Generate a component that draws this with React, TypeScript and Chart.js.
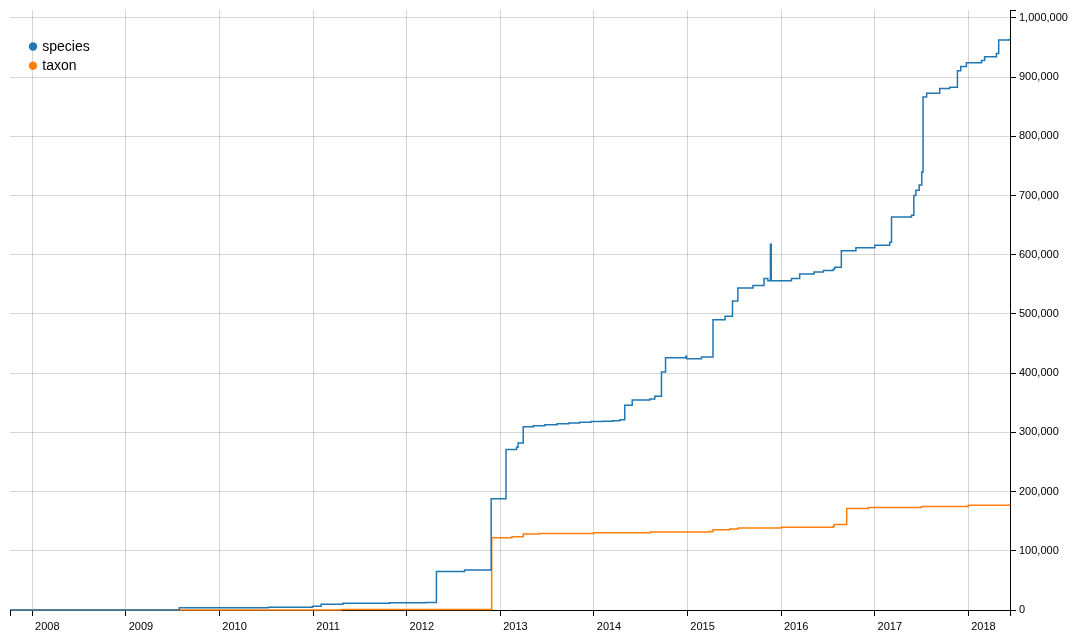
import React, { useEffect, useRef } from 'react';
import { Chart, registerables } from 'chart.js';

Chart.register(...registerables);

// ---- data (dates of change, cumulative counts) ----
const speciesDates = [
  '2007-10-06', '2009-07-28', '2010-07-10', '2010-12-29', '2011-02-01', '2011-04-27',
  '2011-10-27', '2012-03-14', '2012-04-26', '2012-08-14', '2012-11-26', '2013-01-23',
  '2013-03-05', '2013-03-11', '2013-03-31', '2013-05-10', '2013-06-23', '2013-08-10',
  '2013-09-25', '2013-11-06', '2013-12-20', '2014-02-05', '2014-03-15', '2014-04-12',
  '2014-05-01', '2014-05-30', '2014-08-07', '2014-08-26', '2014-09-21', '2014-10-07',
  '2014-12-25', '2014-12-28', '2015-02-24', '2015-04-10', '2015-05-27', '2015-06-25',
  '2015-07-16', '2015-09-13', '2015-10-26', '2015-11-10', '2015-11-20', '2015-11-23',
  '2016-02-10', '2016-03-13', '2016-05-08', '2016-06-14', '2016-07-22', '2016-07-28',
  '2016-08-23', '2016-10-19', '2017-01-01', '2017-02-28', '2017-03-07', '2017-05-24',
  '2017-06-02', '2017-06-10', '2017-06-23', '2017-07-03', '2017-07-08', '2017-07-22',
  '2017-09-11', '2017-10-20', '2017-11-19', '2017-12-02', '2017-12-24', '2018-02-21',
  '2018-03-05', '2018-04-20', '2018-04-29', '2018-06-10',
];
const speciesCounts = [
  0, 4000, 4600, 6400, 9900, 11600,
  12300, 12800, 65200, 67500, 188000, 271000,
  275000, 282000, 309600, 311300, 313000, 314600,
  316000, 317000, 318200, 319000, 319800, 321500,
  346000, 354700, 356400, 361000, 402000, 426000,
  428500, 424500, 427500, 490400, 496000, 522000,
  544000, 548000, 560000, 556000, 618000, 556000,
  560000, 567600, 571000, 573500, 575500, 578900,
  607000, 612000, 616000, 621000, 664000, 667000,
  700000, 709000, 718000, 740000, 866700, 872800,
  881000, 883000, 911000, 918000, 924500, 928000,
  934600, 940000, 962800, 965000,
];

const taxonDates = [
  '2007-10-06', '2011-04-20', '2012-11-28', '2013-02-15', '2013-03-31', '2013-06-01',
  '2014-01-01', '2014-08-08', '2015-03-28', '2015-04-10', '2015-06-14', '2015-07-17',
  '2016-01-01', '2016-07-22', '2016-07-26', '2016-09-13', '2016-12-07', '2017-07-02',
  '2018-01-01', '2018-06-10',
];
const taxonCounts = [
  0, 800, 122000, 123600, 128200, 129400,
  130500, 131800, 132800, 135600, 136800, 138500,
  139800, 141400, 144300, 171600, 173300, 175000,
  176800, 178500,
];

const seriesLabels = ['species', 'taxon'];
const seriesColors = ['#1f77b4', '#ff7f0e'];

const yearTicks = [2008, 2009, 2010, 2011, 2012, 2013, 2014, 2015, 2016, 2017, 2018];
const countTicks = [0, 100000, 200000, 300000, 400000, 500000, 600000, 700000, 800000, 900000, 1000000];

const X_START = '2007-10-06';
const X_END = '2018-06-12';
const Y_MAX = 1013500;

const FONT = "'Liberation Sans', Arial, Helvetica, sans-serif";
const GRID = 'rgba(0,0,0,0.16)';

function toYear(d: string): number {
  const [y, m, day] = d.split('-').map(Number);
  const start = Date.UTC(y, 0, 1);
  const end = Date.UTC(y + 1, 0, 1);
  return y + (Date.UTC(y, m - 1, day) - start) / (end - start);
}

function toPoints(dates: string[], counts: number[]) {
  return dates.map((d, i) => ({ x: toYear(d), y: counts[i] }));
}

const decorPlugin = {
  id: 'decor',
  afterDraw(chart: any) {
    const { ctx, chartArea } = chart;
    const { left, right, top, bottom } = chartArea;
    ctx.save();
    // d3-style outer ticks at the axis ends
    ctx.strokeStyle = '#000';
    ctx.lineWidth = 1;
    ctx.beginPath();
    ctx.moveTo(Math.round(left) + 0.5, bottom);
    ctx.lineTo(Math.round(left) + 0.5, bottom + 6);
    ctx.moveTo(Math.round(right) + 0.5, bottom);
    ctx.lineTo(Math.round(right) + 0.5, bottom + 6);
    ctx.moveTo(right, Math.round(top) + 0.5);
    ctx.lineTo(right + 6, Math.round(top) + 0.5);
    ctx.stroke();
    // legend inside the plot area
    ctx.font = `14px ${FONT}`;
    ctx.textBaseline = 'alphabetic';
    ctx.textAlign = 'left';
    chart.data.datasets.forEach((ds: any, i: number) => {
      const cx = left + 23;
      const cy = top + 36.5 + i * 19.3;
      ctx.fillStyle = ds.borderColor;
      ctx.beginPath();
      ctx.arc(cx, cy, 4.2, 0, Math.PI * 2);
      ctx.fill();
      ctx.fillStyle = '#000';
      ctx.fillText(ds.label, cx + 9.3, cy + 4.5);
    });
    ctx.restore();
  },
};

export default function App() {
  const canvasRef = useRef<HTMLCanvasElement | null>(null);

  useEffect(() => {
    if (!canvasRef.current) return;
    Chart.defaults.font.family = FONT;
    Chart.defaults.font.size = 11;
    Chart.defaults.color = '#000';

    const chart = new Chart(canvasRef.current, {
      type: 'line',
      data: {
        datasets: [
          {
            label: seriesLabels[0],
            data: toPoints(speciesDates, speciesCounts),
            borderColor: seriesColors[0],
            backgroundColor: seriesColors[0],
            borderWidth: 1.5,
            pointRadius: 0,
            stepped: true,
            fill: false,
            clip: 3,
          },
          {
            label: seriesLabels[1],
            data: toPoints(taxonDates, taxonCounts),
            borderColor: seriesColors[1],
            backgroundColor: seriesColors[1],
            borderWidth: 1.5,
            pointRadius: 0,
            stepped: true,
            fill: false,
            clip: 3,
          },
        ],
      },
      options: {
        animation: false,
        responsive: false,
        devicePixelRatio: 1,
        parsing: false,
        layout: { padding: { left: 10, top: 10, right: 0, bottom: 0 } },
        plugins: {
          legend: { display: false },
          tooltip: { enabled: false },
        },
        scales: {
          x: {
            type: 'linear',
            min: toYear(X_START),
            max: toYear(X_END),
            afterFit: (s: any) => { s.height = 30; },
            afterBuildTicks: (s: any) => { s.ticks = yearTicks.map((v) => ({ value: v })); },
            grid: { color: GRID, tickColor: '#000', tickLength: 6, lineWidth: 1 },
            border: { color: '#000', width: 1 },
            ticks: {
              autoSkip: false,
              maxRotation: 0,
              minRotation: 0,
              labelOffset: 15,
              padding: 4,
              color: '#000',
              font: { size: 11, family: FONT },
              callback: (v: any) => String(v),
            },
          },
          y: {
            type: 'linear',
            position: 'right',
            min: 0,
            max: Y_MAX,
            afterFit: (s: any) => { s.width = 70; },
            afterBuildTicks: (s: any) => { s.ticks = countTicks.map((v) => ({ value: v })); },
            grid: { color: GRID, tickColor: '#000', tickLength: 6, lineWidth: 1 },
            border: { color: '#000', width: 1 },
            ticks: {
              autoSkip: false,
              padding: 3,
              color: '#000',
              font: { size: 11, family: FONT },
              callback: (v: any) => Number(v).toLocaleString('en-US'),
            },
          },
        },
      },
      plugins: [decorPlugin],
    });
    return () => chart.destroy();
  }, []);

  return (
    <div style={{ position: 'fixed', left: 0, top: 0, width: 1080, height: 640, background: '#fff' }}>
      <canvas ref={canvasRef} width={1080} height={640} />
    </div>
  );
}
